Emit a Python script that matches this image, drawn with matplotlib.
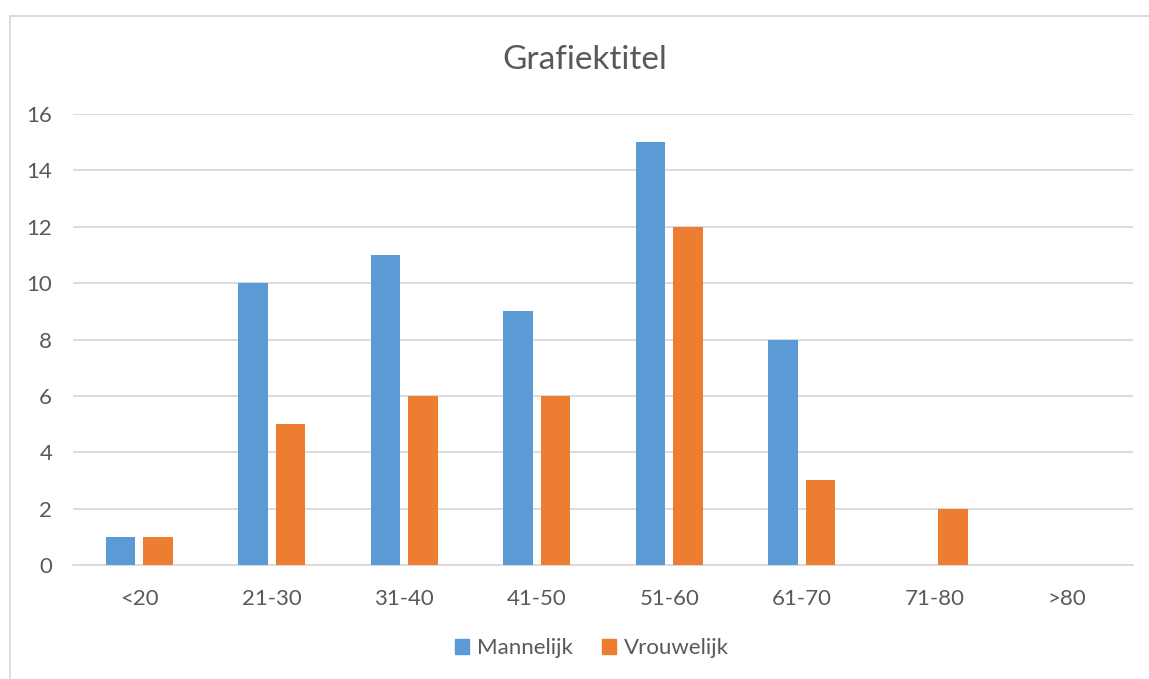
import matplotlib
matplotlib.use("Agg")
import matplotlib.pyplot as plt
import numpy as np
from matplotlib.lines import Line2D
from matplotlib.patches import Patch

categories = ["<20", "21-30", "31-40", "41-50", "51-60", "61-70", "71-80", ">80"]
mannelijk = [1, 10, 11, 9, 15, 8, 0, 0]
vrouwelijk = [1, 5, 6, 6, 12, 3, 2, 0]
series_names = ["Mannelijk", "Vrouwelijk"]
colors = ["#5B9BD5", "#ED7D31"]
yticks = [0, 2, 4, 6, 8, 10, 12, 14, 16]

plt.rcParams['font.family'] = ['Lato', 'DejaVu Sans']
txt = "#595959"
W, H = 1149, 679
fig = plt.figure(figsize=(W / 100, H / 100), dpi=100)
ax = fig.add_axes([73 / W, 1 - 565 / H, (1133 - 73) / W, (565 - 114) / H])

x = np.arange(len(categories))
bw = 0.223
off = 0.1415
ax.bar(x - off, mannelijk, bw, color=colors[0], zorder=3)
ax.bar(x + off, vrouwelijk, bw, color=colors[1], zorder=3)

ax.set_xlim(-0.5, len(categories) - 0.5)
ax.set_ylim(0, 16)
ax.set_yticks(yticks)
ax.set_yticklabels([str(v) for v in yticks])
ax.set_xticks(x)
ax.set_xticklabels(categories)
ax.grid(axis='y', color="#D9D9D9", linewidth=1.3, zorder=0)
for s in ["top", "right", "left"]:
    ax.spines[s].set_visible(False)
ax.spines["bottom"].set_color("#D9D9D9")
ax.spines["bottom"].set_linewidth(1.3)
ax.tick_params(axis='both', length=0, labelsize=16, colors=txt)
ax.tick_params(axis='y', pad=15)
ax.tick_params(axis='x', pad=17)

fig.text(585 / W, 1 - 60 / H, "Grafiektitel", ha='center', va='center', fontsize=24, color=txt)

handles = [Patch(color=c) for c in colors]
leg = fig.legend(handles, series_names, loc='center', bbox_to_anchor=(592 / W, 1 - 648 / H),
                 ncol=2, frameon=False, fontsize=16, handlelength=0.65, handleheight=0.65,
                 handletextpad=0.35, columnspacing=1.3, labelcolor=txt)

# chart border (partially visible)
fig.add_artist(Line2D([9.5 / W, 9.5 / W], [0, 1 - 15.5 / H], color="#D9D9D9", linewidth=1.3, transform=fig.transFigure))
fig.add_artist(Line2D([9.5 / W, 1], [1 - 15.5 / H, 1 - 15.5 / H], color="#D9D9D9", linewidth=1.3, transform=fig.transFigure))

fig.savefig("out.png", dpi=100)
